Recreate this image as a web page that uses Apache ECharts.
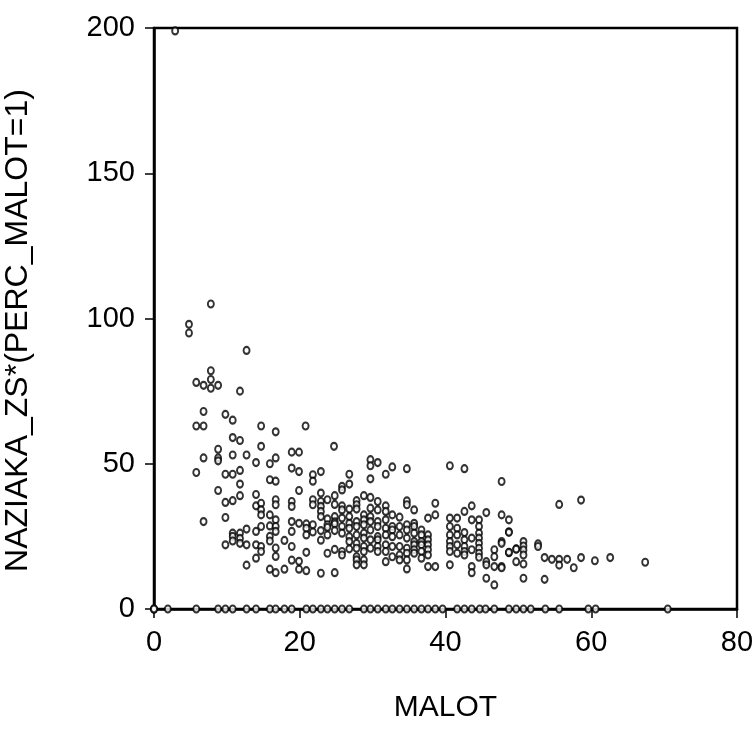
<!DOCTYPE html>
<html>
<head>
<meta charset="utf-8">
<script src="https://cdn.jsdelivr.net/npm/echarts@6/dist/echarts.min.js"></script>
<style>
  html, body { margin: 0; padding: 0; background: #fff; }
  #main { width: 755px; height: 748px; }
</style>
</head>
<body>
<div id="main"></div>
<script>
// scatter of NAZIAKA_ZS*(PERC_MALOT=1) against MALOT

// high values, mostly small MALOT
const upperPoints = [
    [2.9, 199], [4.8, 98], [4.8, 95], [7.8, 105], [12.7, 89], [7.8, 82], [7.8, 79],
    [5.8, 78], [6.8, 77], [7.8, 76], [8.8, 77], [11.8, 75], [6.8, 68], [9.8, 67],
    [10.8, 65], [5.8, 63], [6.8, 63], [14.7, 63], [16.7, 61], [20.8, 63], [10.8, 59],
    [11.8, 58], [24.7, 56], [8.8, 55], [14.7, 56], [18.9, 54], [19.9, 54], [6.8, 52],
    [8.8, 52], [10.8, 53], [12.7, 53], [16.7, 52]
];

// MALOT below 25
const leftCloud = [
    [8.8, 51], [14, 50.4], [15.9, 50], [5.8, 47], [9.8, 46.4], [10.8, 46.4], [11.8, 47.7],
    [18.9, 48.5], [19.9, 47.3], [21.8, 46.2], [21.8, 44], [22.9, 47.3], [11.8, 43],
    [15.9, 44.5], [16.7, 44], [19.9, 40.8], [8.8, 40.8], [9.8, 36.7], [10.8, 37.3],
    [11.8, 39], [14, 39.4], [14, 35.5], [14.7, 36.4], [14.7, 34.1], [16.7, 37.6],
    [16.7, 35.9], [18.9, 37], [18.9, 35.3], [21.8, 37.6], [21.8, 35.9], [22.9, 39.9],
    [22.9, 37], [22.9, 35.3], [22.9, 33.6], [22.9, 31.8], [23.8, 37.6], [24.8, 39],
    [24.8, 36], [6.8, 30.1], [9.8, 31.5], [14.7, 32.4], [15.9, 32.4], [16.7, 30.7],
    [18.9, 30.1], [19.9, 29.5], [20.9, 29.3], [21.8, 29], [23.8, 31], [23.8, 29],
    [24.8, 31.8], [24.8, 30], [10.8, 26.1], [11.8, 26.1], [12.7, 27.5], [14, 26.7],
    [14.7, 28.4], [15.9, 28.6], [16.7, 28.4], [16.7, 26.7], [18.9, 26.7], [20.9, 27.8],
    [20.9, 25.5], [21.8, 26.5], [22.9, 27], [22.9, 23.7], [23.8, 28.1], [23.8, 25.5],
    [24.8, 29.3], [24.8, 27], [9.8, 22.1], [10.8, 25], [10.8, 23.4], [11.8, 24.3],
    [11.8, 22.6], [12.7, 22.1], [14, 22.1], [14.7, 21.5], [14.7, 19.8], [15.9, 25],
    [15.9, 23.4], [16.7, 21], [16.7, 18.1], [17.9, 23.6], [18.9, 21.5], [20.9, 19.5],
    [23.8, 19.2], [24.8, 20.5], [14, 17.5], [12.7, 15.1], [18.9, 16.8], [19.9, 16.4],
    [15.9, 13.7], [16.7, 12.5], [17.9, 13.7], [19.9, 13.7], [20.9, 13.2], [22.9, 12.3],
    [24.8, 12.5]
];

// MALOT 25 to 50
const midCloud = [
    [29.7, 51.4], [29.7, 49.3], [30.7, 50.4], [32.7, 48.9], [31.8, 46.4], [29.7, 44.8],
    [34.7, 48.3], [40.6, 49.3], [42.6, 48.3], [47.7, 43.9], [26.8, 46.4], [26.8, 43],
    [25.8, 42.2], [25.8, 41], [28.8, 39], [27.8, 37.3], [29.7, 38.4], [30.7, 37],
    [31.8, 35.5], [34.7, 37.2], [34.7, 35.9], [35.7, 34.1], [38.6, 36.4], [38.6, 32.4],
    [42.6, 33.6], [43.6, 35.5], [45.6, 33.2], [47.7, 32.4], [48.7, 30.7], [49.7, 20.7],
    [25.8, 35.5], [25.8, 34.1], [25.8, 31.3], [25.8, 28.4], [25.8, 26.1], [25.8, 19.8], [25.8, 18.6],
    [26.8, 34.4], [26.8, 31.8], [26.8, 29.5], [26.8, 27.8], [26.8, 24.9], [26.8, 23.2], [26.8, 20.7],
    [27.8, 35.9], [27.8, 34.4], [27.8, 30.1], [27.8, 28.4], [27.8, 25.5], [27.8, 22.6],
    [27.8, 20.9], [27.8, 18], [27.8, 16.9], [27.8, 15.2],
    [28.8, 32.4], [28.8, 30.7], [28.8, 29], [28.8, 26.1], [28.8, 24.4], [28.8, 21.5],
    [28.8, 19.8], [28.8, 16.9], [28.8, 15.2],
    [29.7, 34.7], [29.7, 31.8], [29.7, 30.1], [29.7, 27.2], [29.7, 23.8], [29.7, 20.9],
    [30.7, 34.1], [30.7, 30.1], [30.7, 28.4], [30.7, 24.9], [30.7, 23.8], [30.7, 21.5], [30.7, 19.8],
    [31.8, 33.6], [31.8, 30.7], [31.8, 27.8], [31.8, 25.5], [31.8, 22.1], [31.8, 19.8], [31.8, 16.3],
    [32.7, 32.4], [32.7, 28.4], [32.7, 27.2], [32.7, 24.9], [32.7, 21.5], [32.7, 18],
    [33.7, 31.6], [33.7, 28.4], [33.7, 25.5], [33.7, 21.5], [33.7, 18.6], [33.7, 16.9],
    [34.7, 29], [34.7, 27.2], [34.7, 24.4], [34.7, 20.9], [34.7, 19.2], [34.7, 16.9], [34.7, 13.8],
    [35.7, 29.5], [35.7, 28.4], [35.7, 26.1], [35.7, 23.2], [35.7, 22.1], [35.7, 20.4], [35.7, 19.2],
    [36.7, 27.2], [36.7, 25.5], [36.7, 23.2], [36.7, 22.1], [36.7, 19.8], [36.7, 17.5],
    [37.6, 31.3], [37.6, 25.5], [37.6, 23.8], [37.6, 22.1], [37.6, 20.4], [37.6, 18.6], [37.6, 14.6],
    [38.6, 14.6],
    [40.6, 31.3], [40.6, 28.4], [40.6, 25.5], [40.6, 23.2], [40.6, 21.5], [40.6, 19.8], [40.6, 15.2],
    [41.6, 31.3], [41.6, 27.8], [41.6, 25.5], [41.6, 22.1], [41.6, 19.2],
    [42.6, 26.3], [42.6, 23.8], [42.6, 21.5], [42.6, 19.8], [42.6, 18.6],
    [43.6, 30.7], [43.6, 24.4], [43.6, 20.4], [43.6, 14.6], [43.6, 12.5],
    [44.6, 30.7], [44.6, 28.4], [44.6, 26.1], [44.6, 24.4], [44.6, 22.6], [44.6, 20.9],
    [44.6, 19.2], [44.6, 17.8],
    [45.6, 16.3], [45.6, 15.2], [45.6, 10.6],
    [46.7, 20.4], [46.7, 18], [46.7, 14.6], [46.7, 8.3],
    [47.7, 23.2], [47.7, 22.6], [47.7, 14.6], [48.7, 26.6], [48.7, 19.4], [49.7, 16.3]
];

// MALOT above 48
const rightTail = [
    [48.7, 26.4], [49.7, 20.6], [48.7, 19.5], [50.7, 23.2], [50.7, 21.7], [50.7, 20.3],
    [50.7, 18.6], [50.7, 15.5], [47.7, 14.2], [50.7, 10.6], [52.7, 22.4], [52.7, 21.5],
    [55.6, 36], [58.6, 37.5], [53.6, 17.7], [54.6, 17.1], [55.6, 17.1], [55.6, 15.1],
    [56.7, 17.1], [57.6, 14.2], [58.6, 17.7], [60.5, 16.6], [62.6, 17.7], [67.4, 16.1],
    [53.6, 10.2]
];

// MALOT values whose NAZIAKA_ZS*(PERC_MALOT=1) is 0
const zeroRow = [
    0, 0, 0, 1.9, 5.8, 8.8, 9.8, 10.8, 12.7, 14, 15.9, 16.7, 17.9, 18.9, 20.9, 21.8,
    22.9, 23.8, 24.8, 25.8, 26.8, 28.8, 29.7, 30.7, 31.8, 32.7, 33.7, 34.7, 35.7, 36.7,
    37.6, 38.6, 39.6, 41.6, 42.6, 43.6, 44.7, 45.5, 46.7, 48.7, 49.7, 50.7, 51.7, 53.7,
    55.6, 59.6, 60.6, 70.5
];

const xTicks = { min: 0, max: 80, interval: 20 };
const yTicks = { min: 0, max: 200, interval: 50 };

const points = upperPoints
    .concat(leftCloud, midCloud, rightTail)
    .concat(zeroRow.map(x => [x, 0]));

var myChart = echarts.init(document.getElementById("main"));

const fontFamily = "Liberation Sans, Arial, sans-serif";

myChart.setOption({
    animation: false,
    backgroundColor: "#fff",
    grid: {
        left: 154,
        right: 18,
        top: 28,
        bottom: 139,
        outerBoundsMode: "none",
        containLabel: false,
        show: true,
        borderColor: "#000",
        borderWidth: 2.5,
    },
    xAxis: {
        type: "value",
        min: xTicks.min,
        max: xTicks.max,
        interval: xTicks.interval,
        name: "MALOT",
        nameLocation: "middle",
        nameGap: 84,
        nameTextStyle: { color: "#000", fontFamily: fontFamily, fontSize: 30 },
        axisLine: { show: true, lineStyle: { color: "#000", width: 2.5 } },
        axisTick: { show: true, length: 9, lineStyle: { color: "#000", width: 1.5 } },
        axisLabel: { margin: 19, color: "#000", fontFamily: fontFamily, fontSize: 29 },
        splitLine: { show: false },
    },
    yAxis: {
        type: "value",
        min: yTicks.min,
        max: yTicks.max,
        interval: yTicks.interval,
        name: "NAZIAKA_ZS*(PERC_MALOT=1)",
        nameLocation: "middle",
        nameGap: 120,
        nameTextStyle: {
            color: "#000",
            fontFamily: fontFamily,
            fontSize: 32,
            padding: [0, 24, 0, 0],
        },
        axisLine: { show: true, lineStyle: { color: "#000", width: 2.5 } },
        axisTick: { show: true, length: 9, lineStyle: { color: "#000", width: 1.5 } },
        axisLabel: { margin: 19, color: "#000", fontFamily: fontFamily, fontSize: 29 },
        splitLine: { show: false },
    },
    series: [
        {
            type: "scatter",
            data: points,
            symbol: "emptyCircle",
            symbolSize: [6, 7],
            itemStyle: {
                color: "#000",
                borderColor: "#000",
                borderWidth: 1.6,
            },
        },
    ],
});
</script>
</body>
</html>
